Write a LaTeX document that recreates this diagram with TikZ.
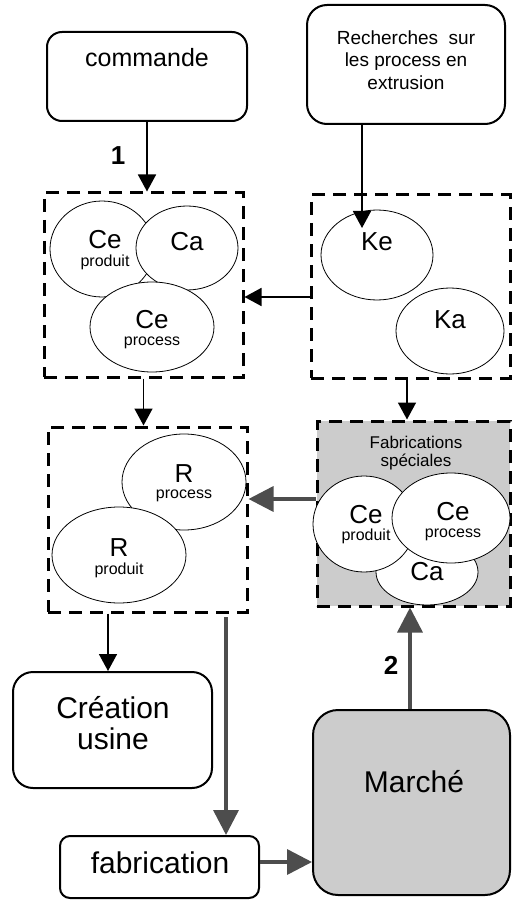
\documentclass[tikz,border=0pt]{standalone}
\usepackage{fontspec}
\setmainfont{Liberation Sans}
\usetikzlibrary{shapes.geometric,arrows.meta}
\definecolor{gfill}{HTML}{CCCCCC}
\definecolor{garrow}{HTML}{4D4D4D}
\begin{document}
\begin{tikzpicture}[x=1pt,y=-1pt,
  sbox/.style={draw,line width=2pt,rounded corners=#1,inner sep=0pt},
  dbox/.style={draw,line width=3pt,dash pattern=on 13pt off 8pt,inner sep=0pt},
  ell/.style={draw,line width=0.8pt,fill=white,ellipse,inner sep=0pt},
  big/.style={inner sep=0pt,font=\fontsize{26}{30}\selectfont},
  small/.style={inner sep=0pt,font=\fontsize{16}{18}\selectfont},
  huge/.style={inner sep=0pt,align=center,font=\fontsize{30}{31}\selectfont},
  barr/.style={line width=1.6pt,-{Triangle[width=18pt,length=17pt]}},
  garr/.style={line width=3.5pt,draw=garrow,-{Triangle[width=25pt,length=25pt]},fill=garrow},
]
\useasboundingbox (0,0) rectangle (511,901);

% boxes
\node[sbox=15pt,minimum width=200pt,minimum height=89pt] (commande) at (147,76.5) {};
\node[sbox=20pt,minimum width=198pt,minimum height=119pt] (recherches) at (406,64.5) {};
\node[dbox,minimum width=199pt,minimum height=184pt] (box1) at (143.5,285) {};
\node[dbox,minimum width=199pt,minimum height=183pt] (box2) at (410.5,286.5) {};
\node[dbox,minimum width=199pt,minimum height=185pt] (box3) at (147.5,519.5) {};
\node[dbox,fill=gfill,minimum width=193pt,minimum height=185pt] (box4) at (413.5,513.5) {};
\node[sbox=20pt,minimum width=199pt,minimum height=116pt] (creation) at (112.5,730) {};
\node[sbox=10pt,minimum width=199pt,minimum height=62pt] (fab) at (159.5,867) {};
\node[sbox=25pt,fill=gfill,minimum width=197pt,minimum height=185pt] (marche) at (411.5,802.5) {};

% box texts
\node[inner sep=0pt,font=\fontsize{25}{29}\selectfont] (tcommande) at (147,58) {commande};
\node[inner sep=0pt,align=center,font=\fontsize{19}{22.5}\selectfont] (trech) at (406,60) {Recherches\ \ sur\\les process en\\extrusion};
\node[huge] (tcreation) at (113,723) {Création\\usine};
\node[huge] (tfab) at (160,863) {fabrication};
\node[huge] (tmarche) at (414,782) {Marché};
\node[inner sep=0pt,align=center,font=\fontsize{17}{18}\selectfont] (tfs) at (416,453) {Fabrications\\spéciales};

% box1 ellipses
\node[ell,minimum width=104pt,minimum height=96pt] (e1) at (102,249) {};
\node[ell,minimum width=102pt,minimum height=84pt] (e2) at (187,248) {};
\node[ell,minimum width=124pt,minimum height=90pt] (e3) at (152,327) {};
\node[big] (t1a) at (105,240) {Ce};
\node[small] (t1b) at (105,262) {produit};
\node[big] (t2a) at (187,242) {Ca};
\node[big] (t3a) at (152,320) {Ce};
\node[small] (t3b) at (152,343) {process};

% box2 ellipses
\node[ell,minimum width=112pt,minimum height=90pt] (ke) at (377,255) {};
\node[ell,minimum width=108pt,minimum height=86pt] (ka) at (450,331) {};
\node[big] (tke) at (377,242) {Ke};
\node[big] (tka) at (450,320) {Ka};

% box3 ellipses
\node[ell,minimum width=124pt,minimum height=96pt] (rp) at (184,482) {};
\node[ell,minimum width=134pt,minimum height=96pt] (rd) at (119,555) {};
\node[big] (trp) at (184,473.5) {R};
\node[small] (trp2) at (184,496) {process};
\node[big] (trd) at (119,547.5) {R};
\node[small] (trd2) at (119,570.5) {produit};

% box4 ellipses
\node[ell,minimum width=102pt,minimum height=66pt] (fca) at (427,572) {};
\node[ell,minimum width=102pt,minimum height=96pt] (fcp) at (364,524) {};
\node[ell,minimum width=118pt,minimum height=90pt] (fcr) at (451,518) {};
\node[big] (tfca) at (427,572) {Ca};
\node[big] (tfcp) at (366,515) {Ce};
\node[small] (tfcp2) at (366,536) {produit};
\node[big] (tfcr) at (453,512) {Ce};
\node[small] (tfcr2) at (453,535) {process};

% labels
\node[inner sep=0pt,font=\bfseries\fontsize{26}{30}\selectfont] (n1) at (118,156) {1};
\node[inner sep=0pt,font=\bfseries\fontsize{26}{30}\selectfont] (n2) at (391,665) {2};

% helper coordinates
\coordinate (ketip) at (362,228);
\coordinate (m1) at (0,297);
\coordinate (k1) at (407,0);
\coordinate (k2) at (108,0);
\coordinate (m2) at (0,499);
\coordinate (gstart) at (226,617);
\coordinate (m3) at (0,862);
\coordinate (k3) at (410,0);

% black arrows
\draw[barr] (commande.south) -- (commande.south |- box1.north);
\draw[barr] (recherches.south -| ketip) -- (ketip);
\draw[barr] (box2.west |- m1) -- (box1.east |- m1);
\draw[barr] (box1.south) -- (box1.south |- box3.north);
\draw[barr] (box2.south -| k1) -- (k1 |- box4.north);
\draw[barr] (box3.south -| k2) -- (k2 |- creation.north);

% gray arrows
\draw[garr] (box4.west |- m2) -- (box3.east |- m2);
\draw[garr] (gstart) -- (gstart |- fab.north);
\draw[garr] (fab.east |- m3) -- (marche.west |- m3);
\draw[garr] (marche.north -| k3) -- (k3 |- box4.south);
\end{tikzpicture}
\end{document}
